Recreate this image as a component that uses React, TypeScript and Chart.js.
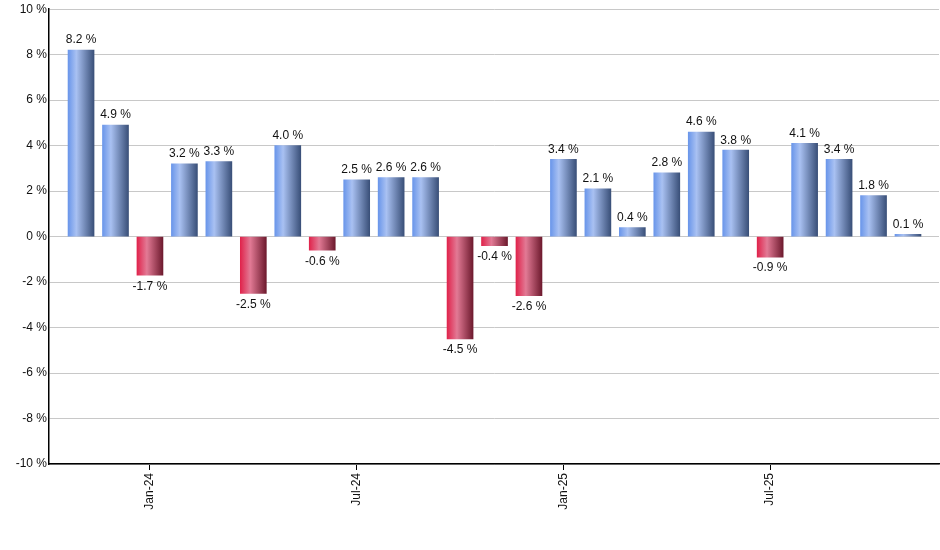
import { useEffect, useRef } from 'react';
import { Chart, registerables } from 'chart.js';
Chart.register(...registerables);

// monthly returns, Nov-23 .. Nov-25
const months = [
  'Nov-23', 'Dec-23', 'Jan-24', 'Feb-24', 'Mar-24', 'Apr-24', 'May-24', 'Jun-24', 'Jul-24',
  'Aug-24', 'Sep-24', 'Oct-24', 'Nov-24', 'Dec-24', 'Jan-25', 'Feb-25', 'Mar-25', 'Apr-25',
  'May-25', 'Jun-25', 'Jul-25', 'Aug-25', 'Sep-25', 'Oct-25', 'Nov-25',
];
const returns = [
  8.2, 4.9, -1.7, 3.2, 3.3, -2.5, 4.0, -0.6, 2.5, 2.6, 2.6, -4.5, -0.4, -2.6, 3.4, 2.1, 0.4, 2.8,
  4.6, 3.8, -0.9, 4.1, 3.4, 1.8, 0.1,
];
const tickMonths = ['Jan-24', 'Jul-24', 'Jan-25', 'Jul-25'];

const FONT = '"Liberation Sans", Arial, sans-serif';

const valueLabels = {
  id: 'valueLabels',
  afterDatasetsDraw(chart: Chart) {
    const ctx = chart.ctx;
    const meta = chart.getDatasetMeta(0);
    ctx.save();
    ctx.font = `12px ${FONT}`;
    ctx.fillStyle = '#111';
    ctx.textAlign = 'center';
    meta.data.forEach((el: any, i: number) => {
      const v = returns[i];
      const txt = `${v.toFixed(1)} %`;
      if (v >= 0) {
        ctx.textBaseline = 'bottom';
        ctx.fillText(txt, el.x, el.y - 4);
      } else {
        ctx.textBaseline = 'top';
        ctx.fillText(txt, el.x, el.y + 5);
      }
    });
    ctx.restore();
  },
};

export default function App() {
  const canvasRef = useRef<HTMLCanvasElement>(null);

  useEffect(() => {
    if (!canvasRef.current) return;
    const chart = new Chart(canvasRef.current, {
      type: 'bar',
      data: {
        datasets: [
          {
            data: returns.map((v, i) => ({ x: i, y: v })),
            barThickness: 26,
            borderWidth: 0,
            backgroundColor: (c: any) => {
              const ch = c.chart;
              const xs = ch.scales?.x;
              const v = returns[c.dataIndex] ?? 0;
              if (!xs || !ch.chartArea) return v < 0 ? '#c8385a' : '#6f8fd0';
              const cx = xs.getPixelForValue(c.dataIndex);
              const g = ch.ctx.createLinearGradient(cx - 13, 0, cx + 13, 0);
              if (v < 0) {
                g.addColorStop(0, '#e0244c');
                g.addColorStop(0.38, '#e27a95');
                g.addColorStop(1, '#6e1a2e');
              } else {
                g.addColorStop(0, '#6a96ea');
                g.addColorStop(0.32, '#a9c1f2');
                g.addColorStop(1, '#3a5079');
              }
              return g;
            },
          },
        ],
      },
      options: {
        responsive: true,
        maintainAspectRatio: false,
        animation: false,
        layout: { padding: { top: 9, right: 1, left: 0, bottom: 0 } },
        plugins: { legend: { display: false }, tooltip: { enabled: false } },
        scales: {
          x: {
            type: 'linear',
            offset: false,
            min: -0.93,
            max: 24.9,
            afterBuildTicks: (s: any) => {
              s.ticks = tickMonths.map(m => ({ value: months.indexOf(m) }));
            },
            afterFit: (s: any) => { s.height = 86; },
            ticks: {
              minRotation: 90,
              maxRotation: 90,
              padding: 3,
              color: '#111',
              font: { size: 12, family: FONT },
              callback: (v: number | string) => months[Number(v)] ?? '',
            },
            grid: { offset: false, drawOnChartArea: false, drawTicks: true, tickLength: 6, color: '#000' },
            border: { color: '#000', width: 1.5 },
          },
          y: {
            min: -10,
            max: 10,
            afterFit: (s: any) => { s.width = 49; },
            ticks: {
              stepSize: 2,
              padding: 2,
              color: '#111',
              font: { size: 12, family: FONT },
              callback: (v: number | string) => v + ' %',
            },
            grid: { color: '#c8c8c8', drawTicks: false },
            border: { color: '#000', width: 1.5 },
          },
        },
      },
      plugins: [valueLabels],
    });
    return () => { chart.destroy(); };
  }, []);

  return (
    <div style={{ position: 'absolute', left: 0, top: 0, width: 940, height: 550, background: '#fff' }}>
      <canvas ref={canvasRef} role="img" aria-label="Monthly returns" />
    </div>
  );
}
